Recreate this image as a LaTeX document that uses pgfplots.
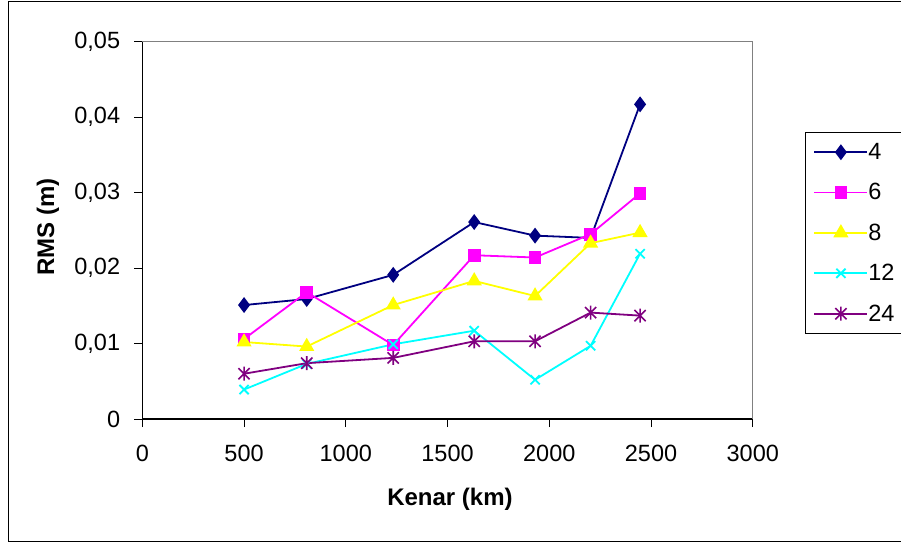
\documentclass[border=0pt]{standalone}
\usepackage{pgfplots}
\pgfplotsset{compat=1.18}
\usepackage{fontspec}
\setmainfont{Liberation Sans}
\definecolor{c4}{RGB}{0,0,128}
\definecolor{c6}{RGB}{255,0,255}
\definecolor{c8}{RGB}{255,255,0}
\definecolor{c12}{RGB}{0,255,255}
\definecolor{c24}{RGB}{128,0,128}
\pgfdeclareplotmark{xstar}{%
  \pgfpathmoveto{\pgfqpoint{0pt}{-\pgfplotmarksize}}%
  \pgfpathlineto{\pgfqpoint{0pt}{\pgfplotmarksize}}%
  \pgfpathmoveto{\pgfqpoint{-.8\pgfplotmarksize}{-.8\pgfplotmarksize}}%
  \pgfpathlineto{\pgfqpoint{.8\pgfplotmarksize}{.8\pgfplotmarksize}}%
  \pgfpathmoveto{\pgfqpoint{-.8\pgfplotmarksize}{.8\pgfplotmarksize}}%
  \pgfpathlineto{\pgfqpoint{.8\pgfplotmarksize}{-.8\pgfplotmarksize}}%
  \pgfusepathqstroke}
\begin{document}
\begin{tikzpicture}[x=1pt,y=1pt]
\useasboundingbox (0,0) rectangle (901,543);
\draw[line width=1.3pt] (8.3,1.3) rectangle (930,541.8);
\begin{axis}[
  at={(142.3pt,124pt)}, anchor=south west,
  scale only axis, width=610.5pt, height=377.3pt,
  xmin=0, xmax=3000, ymin=0, ymax=0.05,
  axis lines*=left,
  axis line style={black, line width=1.3pt},
  clip=false,
  scaled y ticks=false, scaled x ticks=false,
  xtick={0,500,1000,1500,2000,2500,3000},
  xticklabels={0,500,1000,1500,2000,2500,3000},
  ytick={0,0.01,0.02,0.03,0.04,0.05},
  yticklabels={0,{0,01},{0,02},{0,03},{0,04},{0,05}},
  tick align=outside, major tick length=8pt,
  tick style={black, line width=1pt},
  /pgf/number format/assume math mode=true,
  ticklabel style={font=\fontsize{23.5}{28}\selectfont, inner sep=0pt},
  xticklabel style={anchor=north, yshift=-18pt},
  yticklabel style={anchor=east, xshift=-14pt},
  xlabel={Kenar (km)}, ylabel={RMS (m)},
  label style={font=\bfseries\fontsize{24}{28}\selectfont},
  xlabel style={at={(axis description cs:0.504,-0.212)}, anchor=center},
  ylabel style={at={(axis description cs:-0.1545,0.509)}, anchor=center},
  legend style={at={(axis description cs:1.0855,0.7599)}, anchor=north west,
    draw=black, line width=1pt, fill=white,
    font=\fontsize{23.5}{28}\selectfont,
    inner xsep=8pt, inner ysep=10.6pt, row sep=22.5pt,
    nodes={inner sep=0pt},
    /tikz/every even column/.append style={column sep=4pt}},
  legend cell align=left,
  legend image code/.code={\draw[mark repeat=2,mark phase=2] plot coordinates {(0pt,0pt)(26.5pt,0pt)(53pt,0pt)};},
]
\draw[gray, line width=1.3pt] (rel axis cs:0,1) -- (rel axis cs:1,1) -- (rel axis cs:1,0);
\addplot[c4, line width=1.8pt, mark=diamond*, mark size=6.5pt, mark options={solid, fill=c4}]
  coordinates {(500,0.0151)(808,0.0159)(1233,0.0191)(1631,0.0261)(1930,0.0243)(2203,0.0240)(2446,0.0417)};
\addplot[c6, line width=1.8pt, mark=square*, mark size=5.5pt, mark options={solid, fill=c6}]
  coordinates {(500,0.0106)(808,0.0168)(1233,0.0098)(1631,0.0217)(1930,0.0214)(2203,0.0245)(2446,0.0299)};
\addplot[c8, line width=1.8pt, mark=triangle*, mark size=7pt, mark options={solid, fill=c8}]
  coordinates {(500,0.0102)(808,0.0096)(1233,0.0151)(1631,0.0183)(1930,0.0163)(2203,0.0233)(2446,0.0247)};
\addplot[c12, line width=1.8pt, mark=x, mark size=6.5pt, mark options={solid, line width=1.8pt}]
  coordinates {(500,0.0039)(808,0.0073)(1233,0.0099)(1631,0.0117)(1930,0.0052)(2203,0.0097)(2446,0.0219)};
\addplot[c24, line width=1.8pt, mark=xstar, mark size=7pt, mark options={solid, line width=1.6pt}]
  coordinates {(500,0.0060)(808,0.0074)(1233,0.0081)(1631,0.0103)(1930,0.0103)(2203,0.0141)(2446,0.0137)};
\legend{4,6,8,12,24}
\end{axis}
\end{tikzpicture}
\end{document}
